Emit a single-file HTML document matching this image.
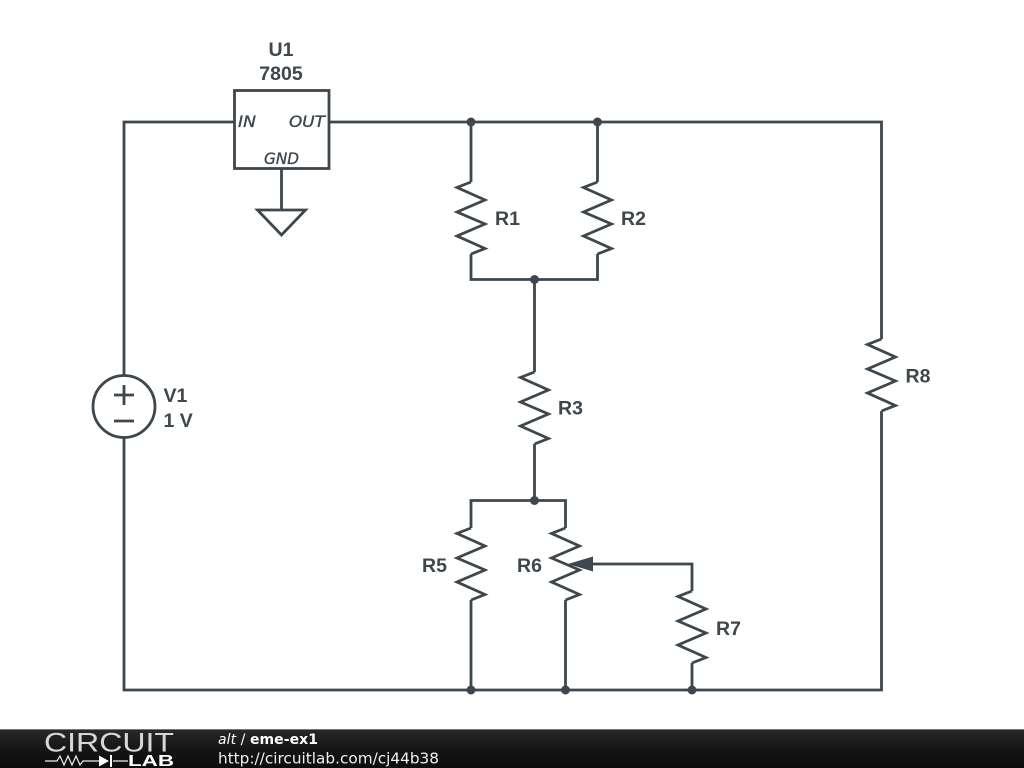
<!DOCTYPE html>
<html><head><meta charset="utf-8"><style>
html,body{margin:0;padding:0;background:#fff;width:1024px;height:768px;overflow:hidden}
svg{display:block}
</style></head><body>
<svg width="1024" height="768" viewBox="0 0 1024 768" xmlns="http://www.w3.org/2000/svg">
<defs>
<linearGradient id="g" x1="0" y1="0" x2="0" y2="1"><stop offset="0" stop-color="#2a2a2a"/><stop offset="0.5" stop-color="#161616"/><stop offset="1" stop-color="#0c0c0c"/></linearGradient>
<polyline id="r" points="0,-36 -14,-30.500 14,-18 -14,-6 14,6 -14,18 14,30.500 0,36" fill="none"/>
</defs>
<g fill="none" stroke="#3d474d" stroke-width="2.800" stroke-linejoin="miter">
<path d="M233.500 122H124V375M124 438V690H881.500V411M881.500 339V122H329"/>
<rect x="234.500" y="90.500" width="94.500" height="78"/>
<path d="M281.500 169V210M257.500 210H305.500L281.500 235Z"/>
<path d="M471 122V182M471 254V279.500H597.500V254M597.500 182V122"/>
<path d="M534.500 279.500V372M534.500 444V500.500"/>
<path d="M471 528V500.500H565.500V528M471 600V690M565.500 600V690"/>
<path d="M580 564H692V591M692 663V690"/>
<circle cx="124" cy="406.500" r="31"/>
<path d="M114 395H134M124 385V405M114 421H134"/>
<use href="#r" x="471" y="218"/>
<use href="#r" x="597.500" y="218"/>
<use href="#r" x="534.500" y="408"/>
<use href="#r" x="881.500" y="375"/>
<use href="#r" x="471" y="564"/>
<use href="#r" x="565.500" y="564"/>
<use href="#r" x="692" y="627"/>
</g>
<path d="M568 564L593 556.500V571.500Z" fill="#3d474d"/>
<g fill="#3d474d">
<circle cx="471" cy="122" r="4.500"/><circle cx="597.500" cy="122" r="4.500"/>
<circle cx="534.500" cy="279.500" r="4.500"/><circle cx="534.500" cy="500.500" r="4.500"/>
<circle cx="471" cy="690" r="4.500"/><circle cx="565.500" cy="690" r="4.500"/><circle cx="692" cy="690" r="4.500"/>
</g>
<g font-family="'Liberation Sans',sans-serif" font-weight="700" font-size="19.500" fill="#3d474d">
<text x="281" y="56" text-anchor="middle">U1</text>
<text x="281" y="80" text-anchor="middle">7805</text>
<text x="495" y="225">R1</text>
<text x="621" y="225">R2</text>
<text x="558" y="414.500">R3</text>
<text x="422" y="572">R5</text>
<text x="517" y="572">R6</text>
<text x="716" y="635">R7</text>
<text x="905.500" y="382.500">R8</text>
<text x="163.500" y="402">V1</text>
<text x="163.500" y="427">1 V</text>
</g>
<g font-family="'DejaVu Sans',sans-serif" font-style="italic" font-size="16" fill="#3d474d" stroke="#3d474d" stroke-width="0.350">
<text x="238" y="127" textLength="18" lengthAdjust="spacingAndGlyphs">IN</text>
<text x="289" y="127" textLength="36" lengthAdjust="spacingAndGlyphs">OUT</text>
<text x="264" y="164" textLength="35" lengthAdjust="spacingAndGlyphs">GND</text>
</g>
<rect x="0" y="729" width="1024" height="39" fill="url(#g)"/>
<rect x="0" y="729" width="1024" height="1" fill="#777"/>
<text x="44" y="751.500" font-family="'Liberation Sans',sans-serif" font-size="26.500" fill="#d8d8d8" textLength="130" lengthAdjust="spacingAndGlyphs">CIRCUIT</text>
<path d="M45 761H57L60 756L64 765L68 756L72 765L76 756L80 765L83 761H99M113 761H128" fill="none" stroke="#eee" stroke-width="1.200"/>
<path d="M99 755.500L109 761L99 766.500Z M110 755H112V767H110Z" fill="#fff"/>
<text x="128" y="766" font-family="'Liberation Sans',sans-serif" font-weight="700" font-size="15.500" fill="#fff" textLength="46" lengthAdjust="spacingAndGlyphs">LAB</text>
<text x="218" y="744" font-family="'DejaVu Sans',sans-serif" font-size="14" fill="#fff" textLength="100" lengthAdjust="spacing"><tspan font-style="italic">alt</tspan> / <tspan font-weight="700">eme-ex1</tspan></text>
<text x="218" y="763.500" font-family="'DejaVu Sans',sans-serif" font-size="15" fill="#f0f0f0" textLength="221" lengthAdjust="spacingAndGlyphs">http://circuitlab.com/cj44b38</text>
</svg>
</body></html>
